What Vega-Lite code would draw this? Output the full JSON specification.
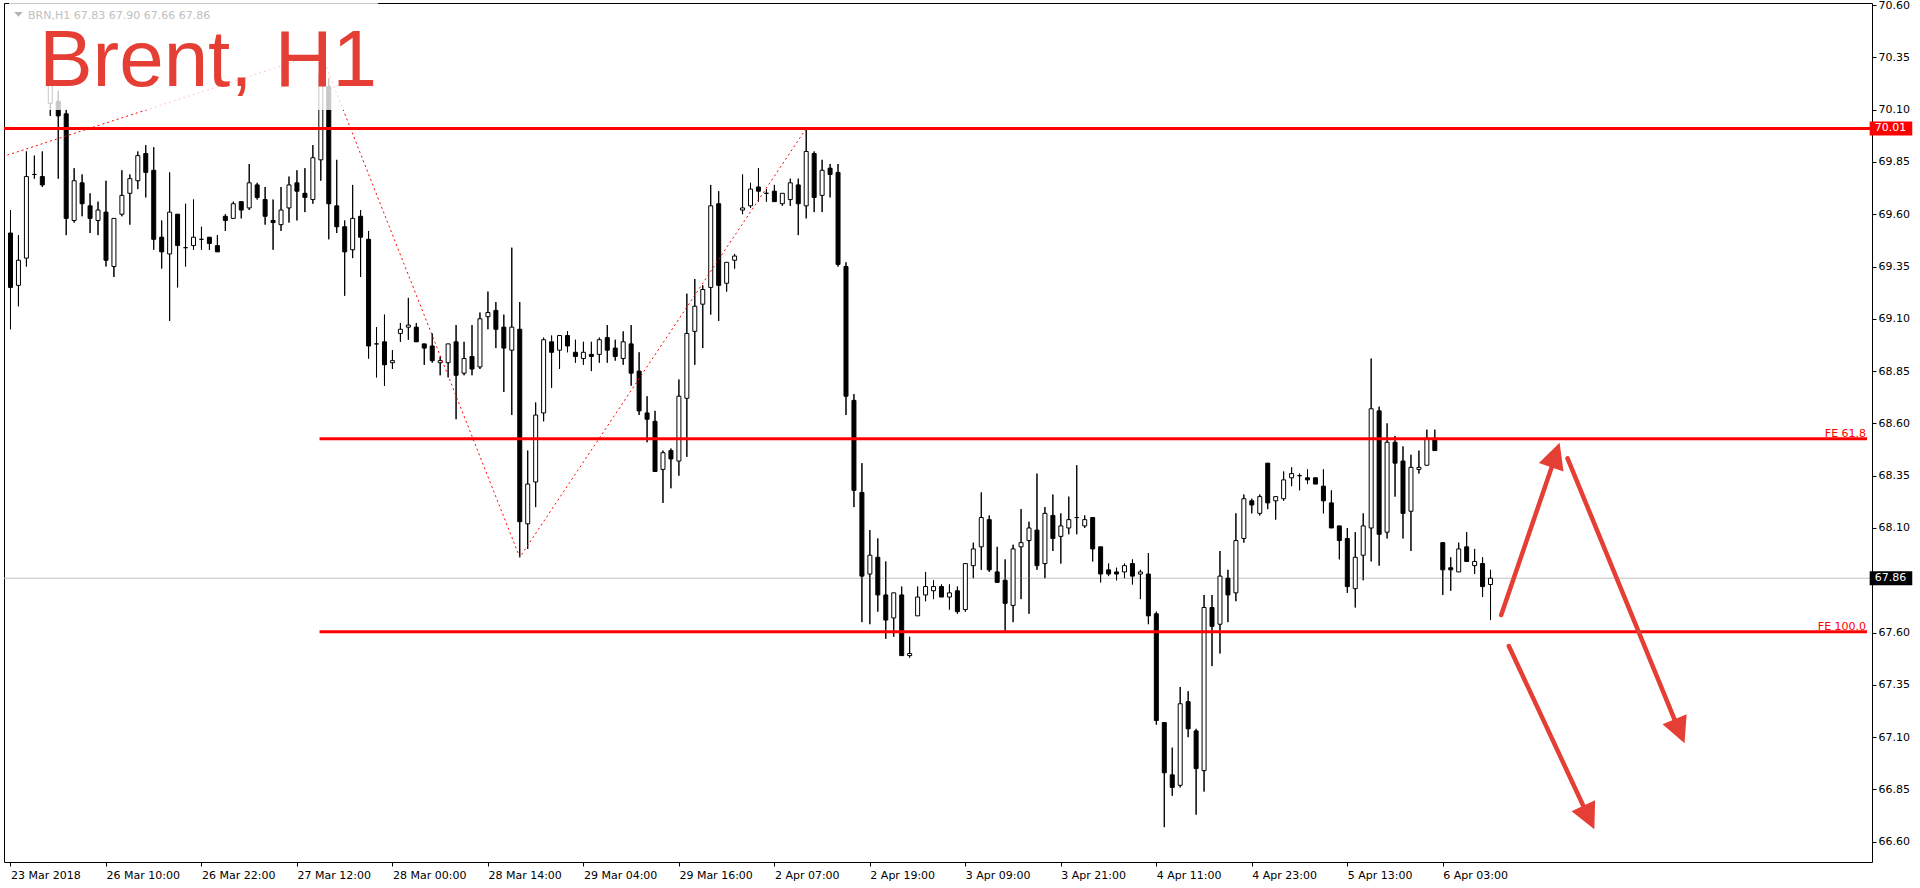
{
  "$schema": "https://vega.github.io/schema/vega-lite/v6.json",
  "width": 1868,
  "height": 859,
  "autosize": {"type": "none"},
  "padding": {"left": 4, "top": 3, "right": 48, "bottom": 26},
  "background": "white",
  "config": {
    "view": {"stroke": "black", "strokeWidth": 1},
    "axis": {"labelFont": "DejaVu Sans", "labelFontSize": 11, "labelColor": "black", "tickColor": "black", "tickSize": 4, "grid": false, "domain": false, "title": null}
  },
  "datasets": {
    "candles": [
      {"i":0,"o":69.51,"h":69.62,"l":69.05,"c":69.25},
      {"i":1,"o":69.26,"h":69.50,"l":69.16,"c":69.38},
      {"i":2,"o":69.39,"h":69.90,"l":69.35,"c":69.78},
      {"i":3,"o":69.79,"h":69.88,"l":69.77,"c":69.79},
      {"i":4,"o":69.78,"h":69.90,"l":69.73,"c":69.74},
      {"i":5,"o":70.13,"h":70.24,"l":70.07,"c":70.24},
      {"i":6,"o":70.14,"h":70.19,"l":69.77,"c":70.07},
      {"i":7,"o":70.08,"h":70.10,"l":69.50,"c":69.58},
      {"i":8,"o":69.57,"h":69.82,"l":69.56,"c":69.76},
      {"i":9,"o":69.75,"h":69.79,"l":69.59,"c":69.65},
      {"i":10,"o":69.64,"h":69.70,"l":69.51,"c":69.58},
      {"i":11,"o":69.57,"h":69.66,"l":69.50,"c":69.62},
      {"i":12,"o":69.61,"h":69.76,"l":69.35,"c":69.38},
      {"i":13,"o":69.35,"h":69.58,"l":69.30,"c":69.58},
      {"i":14,"o":69.60,"h":69.81,"l":69.59,"c":69.69},
      {"i":15,"o":69.70,"h":69.79,"l":69.55,"c":69.77},
      {"i":16,"o":69.76,"h":69.90,"l":69.72,"c":69.88},
      {"i":17,"o":69.89,"h":69.93,"l":69.68,"c":69.80},
      {"i":18,"o":69.81,"h":69.92,"l":69.43,"c":69.48},
      {"i":19,"o":69.49,"h":69.57,"l":69.34,"c":69.42},
      {"i":20,"o":69.41,"h":69.80,"l":69.09,"c":69.61},
      {"i":21,"o":69.60,"h":69.60,"l":69.25,"c":69.45},
      {"i":22,"o":69.44,"h":69.65,"l":69.35,"c":69.44},
      {"i":23,"o":69.45,"h":69.67,"l":69.43,"c":69.49},
      {"i":24,"o":69.48,"h":69.54,"l":69.43,"c":69.48},
      {"i":25,"o":69.49,"h":69.49,"l":69.43,"c":69.46},
      {"i":26,"o":69.45,"h":69.50,"l":69.42,"c":69.42},
      {"i":27,"o":69.59,"h":69.60,"l":69.52,"c":69.57},
      {"i":28,"o":69.58,"h":69.66,"l":69.58,"c":69.65},
      {"i":29,"o":69.66,"h":69.66,"l":69.58,"c":69.62},
      {"i":30,"o":69.63,"h":69.84,"l":69.62,"c":69.75},
      {"i":31,"o":69.74,"h":69.75,"l":69.67,"c":69.68},
      {"i":32,"o":69.67,"h":69.73,"l":69.55,"c":69.59},
      {"i":33,"o":69.57,"h":69.67,"l":69.43,"c":69.56},
      {"i":34,"o":69.55,"h":69.73,"l":69.52,"c":69.62},
      {"i":35,"o":69.63,"h":69.78,"l":69.56,"c":69.74},
      {"i":36,"o":69.75,"h":69.81,"l":69.57,"c":69.71},
      {"i":37,"o":69.70,"h":69.82,"l":69.61,"c":69.68},
      {"i":38,"o":69.67,"h":69.93,"l":69.65,"c":69.87},
      {"i":39,"o":69.86,"h":70.37,"l":69.76,"c":70.27},
      {"i":40,"o":70.21,"h":70.25,"l":69.48,"c":69.65},
      {"i":41,"o":69.64,"h":69.86,"l":69.51,"c":69.54},
      {"i":42,"o":69.54,"h":69.57,"l":69.21,"c":69.42},
      {"i":43,"o":69.43,"h":69.74,"l":69.39,"c":69.58},
      {"i":44,"o":69.59,"h":69.62,"l":69.30,"c":69.49},
      {"i":45,"o":69.48,"h":69.52,"l":68.91,"c":68.97},
      {"i":46,"o":68.98,"h":69.06,"l":68.82,"c":68.98},
      {"i":47,"o":68.99,"h":69.12,"l":68.78,"c":68.88},
      {"i":48,"o":68.89,"h":68.95,"l":68.86,"c":68.90},
      {"i":49,"o":69.03,"h":69.08,"l":68.99,"c":69.05},
      {"i":50,"o":69.06,"h":69.20,"l":69.00,"c":69.07},
      {"i":51,"o":69.06,"h":69.08,"l":68.99,"c":68.99},
      {"i":52,"o":68.98,"h":68.98,"l":68.88,"c":68.96},
      {"i":53,"o":68.97,"h":69.03,"l":68.89,"c":68.90},
      {"i":54,"o":68.89,"h":68.92,"l":68.83,"c":68.90},
      {"i":55,"o":68.89,"h":68.98,"l":68.82,"c":68.98},
      {"i":56,"o":68.99,"h":69.07,"l":68.62,"c":68.83},
      {"i":57,"o":68.84,"h":68.99,"l":68.83,"c":68.91},
      {"i":58,"o":68.92,"h":69.07,"l":68.83,"c":68.86},
      {"i":59,"o":68.87,"h":69.13,"l":68.86,"c":69.10},
      {"i":60,"o":69.11,"h":69.23,"l":69.05,"c":69.13},
      {"i":61,"o":69.14,"h":69.18,"l":68.96,"c":69.05},
      {"i":62,"o":69.06,"h":69.12,"l":68.75,"c":68.96},
      {"i":63,"o":68.95,"h":69.44,"l":68.64,"c":69.06},
      {"i":64,"o":69.05,"h":69.18,"l":67.96,"c":68.13},
      {"i":65,"o":68.12,"h":68.47,"l":68.00,"c":68.31},
      {"i":66,"o":68.32,"h":68.70,"l":68.20,"c":68.64},
      {"i":67,"o":68.65,"h":69.01,"l":68.61,"c":69.00},
      {"i":68,"o":68.99,"h":69.02,"l":68.77,"c":68.94},
      {"i":69,"o":68.95,"h":69.02,"l":68.86,"c":69.02},
      {"i":70,"o":69.02,"h":69.04,"l":68.94,"c":68.97},
      {"i":71,"o":68.94,"h":69.00,"l":68.89,"c":68.92},
      {"i":72,"o":68.91,"h":68.99,"l":68.88,"c":68.94},
      {"i":73,"o":68.93,"h":68.99,"l":68.85,"c":68.92},
      {"i":74,"o":68.93,"h":69.01,"l":68.89,"c":69.00},
      {"i":75,"o":69.01,"h":69.07,"l":68.89,"c":68.95},
      {"i":76,"o":68.96,"h":69.00,"l":68.90,"c":68.92},
      {"i":77,"o":68.91,"h":69.04,"l":68.88,"c":68.99},
      {"i":78,"o":68.98,"h":69.07,"l":68.78,"c":68.84},
      {"i":79,"o":68.85,"h":68.94,"l":68.64,"c":68.66},
      {"i":80,"o":68.65,"h":68.73,"l":68.51,"c":68.62},
      {"i":81,"o":68.61,"h":68.66,"l":68.37,"c":68.37},
      {"i":82,"o":68.38,"h":68.47,"l":68.22,"c":68.46},
      {"i":83,"o":68.47,"h":68.48,"l":68.29,"c":68.43},
      {"i":84,"o":68.42,"h":68.81,"l":68.35,"c":68.73},
      {"i":85,"o":68.72,"h":69.22,"l":68.44,"c":69.03},
      {"i":86,"o":69.04,"h":69.29,"l":68.88,"c":69.16},
      {"i":87,"o":69.17,"h":69.26,"l":68.96,"c":69.24},
      {"i":88,"o":69.25,"h":69.74,"l":69.12,"c":69.64},
      {"i":89,"o":69.65,"h":69.71,"l":69.09,"c":69.26},
      {"i":90,"o":69.27,"h":69.37,"l":69.23,"c":69.37},
      {"i":91,"o":69.38,"h":69.41,"l":69.34,"c":69.40},
      {"i":92,"o":69.62,"h":69.79,"l":69.60,"c":69.63},
      {"i":93,"o":69.64,"h":69.75,"l":69.63,"c":69.72},
      {"i":94,"o":69.73,"h":69.82,"l":69.66,"c":69.71},
      {"i":95,"o":69.70,"h":69.72,"l":69.66,"c":69.70},
      {"i":96,"o":69.71,"h":69.74,"l":69.66,"c":69.66},
      {"i":97,"o":69.65,"h":69.70,"l":69.64,"c":69.70},
      {"i":98,"o":69.67,"h":69.77,"l":69.64,"c":69.75},
      {"i":99,"o":69.74,"h":69.77,"l":69.50,"c":69.65},
      {"i":100,"o":69.64,"h":70.01,"l":69.58,"c":69.90},
      {"i":101,"o":69.89,"h":69.90,"l":69.61,"c":69.68},
      {"i":102,"o":69.69,"h":69.86,"l":69.61,"c":69.81},
      {"i":103,"o":69.82,"h":69.84,"l":69.68,"c":69.79},
      {"i":104,"o":69.80,"h":69.84,"l":69.35,"c":69.36},
      {"i":105,"o":69.35,"h":69.37,"l":68.64,"c":68.73},
      {"i":106,"o":68.71,"h":68.74,"l":68.20,"c":68.28},
      {"i":107,"o":68.27,"h":68.41,"l":67.65,"c":67.87},
      {"i":108,"o":67.88,"h":68.09,"l":67.64,"c":67.97},
      {"i":109,"o":67.96,"h":68.05,"l":67.70,"c":67.78},
      {"i":110,"o":67.78,"h":67.94,"l":67.57,"c":67.66},
      {"i":111,"o":67.67,"h":67.79,"l":67.58,"c":67.79},
      {"i":112,"o":67.78,"h":67.82,"l":67.49,"c":67.49},
      {"i":113,"o":67.49,"h":67.58,"l":67.48,"c":67.50},
      {"i":114,"o":67.68,"h":67.82,"l":67.68,"c":67.77},
      {"i":115,"o":67.78,"h":67.89,"l":67.75,"c":67.82},
      {"i":116,"o":67.80,"h":67.85,"l":67.76,"c":67.82},
      {"i":117,"o":67.82,"h":67.83,"l":67.77,"c":67.77},
      {"i":118,"o":67.77,"h":67.83,"l":67.71,"c":67.79},
      {"i":119,"o":67.80,"h":67.82,"l":67.69,"c":67.70},
      {"i":120,"o":67.71,"h":67.93,"l":67.70,"c":67.93},
      {"i":121,"o":67.92,"h":68.03,"l":67.86,"c":68.00},
      {"i":122,"o":68.01,"h":68.27,"l":67.90,"c":68.15},
      {"i":123,"o":68.14,"h":68.16,"l":67.89,"c":67.90},
      {"i":124,"o":67.89,"h":68.01,"l":67.84,"c":67.84},
      {"i":125,"o":67.85,"h":67.95,"l":67.61,"c":67.74},
      {"i":126,"o":67.73,"h":68.02,"l":67.65,"c":68.00},
      {"i":127,"o":68.01,"h":68.19,"l":67.76,"c":68.03},
      {"i":128,"o":68.04,"h":68.13,"l":67.69,"c":68.10},
      {"i":129,"o":68.09,"h":68.36,"l":67.90,"c":67.92},
      {"i":130,"o":67.93,"h":68.20,"l":67.86,"c":68.17},
      {"i":131,"o":68.16,"h":68.26,"l":67.99,"c":68.05},
      {"i":132,"o":68.06,"h":68.17,"l":67.93,"c":68.11},
      {"i":133,"o":68.10,"h":68.25,"l":68.07,"c":68.14},
      {"i":134,"o":68.15,"h":68.40,"l":68.07,"c":68.15},
      {"i":135,"o":68.11,"h":68.16,"l":68.10,"c":68.14},
      {"i":136,"o":68.15,"h":68.15,"l":67.94,"c":68.00},
      {"i":137,"o":68.01,"h":68.01,"l":67.84,"c":67.88},
      {"i":138,"o":67.90,"h":67.93,"l":67.87,"c":67.88},
      {"i":139,"o":67.89,"h":67.91,"l":67.85,"c":67.88},
      {"i":140,"o":67.89,"h":67.93,"l":67.86,"c":67.92},
      {"i":141,"o":67.93,"h":67.95,"l":67.83,"c":67.87},
      {"i":142,"o":67.88,"h":67.90,"l":67.76,"c":67.89},
      {"i":143,"o":67.88,"h":67.98,"l":67.64,"c":67.68},
      {"i":144,"o":67.69,"h":67.70,"l":67.16,"c":67.18},
      {"i":145,"o":67.17,"h":67.17,"l":66.67,"c":66.93},
      {"i":146,"o":66.92,"h":67.05,"l":66.82,"c":66.86},
      {"i":147,"o":66.87,"h":67.34,"l":66.86,"c":67.26},
      {"i":148,"o":67.27,"h":67.32,"l":67.10,"c":67.14},
      {"i":149,"o":67.13,"h":67.14,"l":66.73,"c":66.95},
      {"i":150,"o":66.94,"h":67.78,"l":66.84,"c":67.72},
      {"i":151,"o":67.72,"h":67.78,"l":67.44,"c":67.63},
      {"i":152,"o":67.64,"h":67.99,"l":67.50,"c":67.87},
      {"i":153,"o":67.86,"h":67.90,"l":67.65,"c":67.78},
      {"i":154,"o":67.79,"h":68.17,"l":67.75,"c":68.04},
      {"i":155,"o":68.05,"h":68.26,"l":68.03,"c":68.24},
      {"i":156,"o":68.23,"h":68.24,"l":68.17,"c":68.21},
      {"i":157,"o":68.17,"h":68.26,"l":68.16,"c":68.25},
      {"i":158,"o":68.41,"h":68.41,"l":68.19,"c":68.22},
      {"i":159,"o":68.23,"h":68.25,"l":68.14,"c":68.25},
      {"i":160,"o":68.24,"h":68.37,"l":68.23,"c":68.33},
      {"i":161,"o":68.34,"h":68.39,"l":68.30,"c":68.36},
      {"i":162,"o":68.35,"h":68.36,"l":68.28,"c":68.35},
      {"i":163,"o":68.34,"h":68.38,"l":68.31,"c":68.33},
      {"i":164,"o":68.34,"h":68.34,"l":68.31,"c":68.31},
      {"i":165,"o":68.30,"h":68.38,"l":68.17,"c":68.23},
      {"i":166,"o":68.22,"h":68.28,"l":68.10,"c":68.10},
      {"i":167,"o":68.11,"h":68.11,"l":67.95,"c":68.04},
      {"i":168,"o":68.05,"h":68.10,"l":67.79,"c":67.82},
      {"i":169,"o":67.81,"h":68.08,"l":67.72,"c":67.96},
      {"i":170,"o":67.97,"h":68.17,"l":67.85,"c":68.11},
      {"i":171,"o":68.10,"h":68.91,"l":67.94,"c":68.67},
      {"i":172,"o":68.66,"h":68.68,"l":67.92,"c":68.07},
      {"i":173,"o":68.08,"h":68.60,"l":68.05,"c":68.51},
      {"i":174,"o":68.51,"h":68.54,"l":68.25,"c":68.41},
      {"i":175,"o":68.42,"h":68.49,"l":68.05,"c":68.17},
      {"i":176,"o":68.18,"h":68.45,"l":67.99,"c":68.39},
      {"i":177,"o":68.38,"h":68.47,"l":68.36,"c":68.39},
      {"i":178,"o":68.40,"h":68.57,"l":68.40,"c":68.53},
      {"i":179,"o":68.53,"h":68.57,"l":68.47,"c":68.47},
      {"i":180,"o":68.03,"h":68.03,"l":67.78,"c":67.90},
      {"i":181,"o":67.91,"h":67.96,"l":67.80,"c":67.90},
      {"i":182,"o":67.89,"h":68.03,"l":67.89,"c":68.00},
      {"i":183,"o":68.01,"h":68.08,"l":67.94,"c":67.94},
      {"i":184,"o":67.92,"h":68.00,"l":67.88,"c":67.94},
      {"i":185,"o":67.93,"h":67.96,"l":67.77,"c":67.82},
      {"i":186,"o":67.83,"h":67.90,"l":67.66,"c":67.86}
    ],
    "fib": [
      {"x": -1, "p": 69.875},
      {"x": 39, "p": 70.37},
      {"x": 64, "p": 67.96},
      {"x": 100, "p": 70.01}
    ],
    "arrows": [
      {"a": 1, "x1": 187.34, "y1": 67.684, "x2": 193.69, "y2": 68.391, "tx": 194.68, "ty": 68.508},
      {"a": 2, "x1": 195.68, "y1": 68.433, "x2": 209.12, "y2": 67.185, "tx": 210.38, "ty": 67.071},
      {"a": 3, "x1": 188.30, "y1": 67.536, "x2": 197.61, "y2": 66.776, "tx": 199.05, "ty": 66.660}
    ],
    "one": [{}]
  },
  "data": {"name": "candles"},
  "layer": [
    {
      "mark": {"type": "rule", "color": "black", "strokeWidth": 1},
      "encoding": {
        "x": {
          "field": "i", "type": "quantitative",
          "scale": {"domain": [-0.1875, 233.3125], "nice": false, "zero": false},
          "axis": {
            "orient": "bottom",
            "values": [0, 12, 24, 36, 48, 60, 72, 84, 96, 108, 120, 132, 144, 156, 168, 180],
            "labelExpr": "['23 Mar 2018','26 Mar 10:00','26 Mar 22:00','27 Mar 12:00','28 Mar 00:00','28 Mar 14:00','29 Mar 04:00','29 Mar 16:00','2 Apr 07:00','2 Apr 19:00','3 Apr 09:00','3 Apr 21:00','4 Apr 11:00','4 Apr 23:00','5 Apr 13:00','6 Apr 03:00'][round(datum.value/12)]",
            "labelAlign": "left", "labelPadding": 3, "labelFlush": false, "labelOverlap": false
          }
        },
        "y": {
          "field": "l", "type": "quantitative",
          "scale": {"domain": [66.5034, 70.6096], "nice": false, "zero": false},
          "axis": {
            "orient": "right",
            "values": [66.6, 66.85, 67.1, 67.35, 67.6, 67.85, 68.1, 68.35, 68.6, 68.85, 69.1, 69.35, 69.6, 69.85, 70.1, 70.35, 70.6],
            "format": ".2f", "labelPadding": 2, "labelOverlap": false, "labelFlush": false
          }
        },
        "y2": {"field": "h"}
      }
    },
    {
      "data": {"name": "one"},
      "mark": {"type": "rule", "color": "#c0c0c0", "strokeWidth": 1},
      "encoding": {"y": {"datum": 67.86, "type": "quantitative"}}
    },
    {
      "mark": {"type": "rule", "color": "black", "strokeWidth": 1},
      "encoding": {
        "x": {"field": "i", "type": "quantitative"},
        "y": {"field": "l", "type": "quantitative"},
        "y2": {"field": "h"}
      }
    },
    {
      "mark": {"type": "bar", "width": 4, "stroke": "black", "strokeWidth": 1},
      "encoding": {
        "x": {"field": "i", "type": "quantitative"},
        "y": {"field": "o", "type": "quantitative"},
        "y2": {"field": "c"},
        "fill": {"condition": {"test": "datum.c > datum.o", "value": "white"}, "value": "black"}
      }
    },
    {
      "data": {"name": "fib"},
      "mark": {"type": "line", "color": "#ff0000", "strokeWidth": 1, "strokeDash": [2, 3], "clip": true},
      "encoding": {
        "x": {"field": "x", "type": "quantitative"},
        "y": {"field": "p", "type": "quantitative"}
      }
    },
    {
      "data": {"name": "one"},
      "mark": {"type": "rect", "color": "white", "opacity": 0.78, "clip": true},
      "encoding": {
        "x": {"datum": -0.1875, "type": "quantitative"},
        "x2": {"datum": 46.2},
        "y": {"datum": 70.098, "type": "quantitative"},
        "y2": {"datum": 70.6096}
      }
    },
    {
      "data": {"name": "one"},
      "mark": {"type": "rule", "color": "#ff0000", "strokeWidth": 3},
      "encoding": {"y": {"datum": 70.01, "type": "quantitative"}}
    },
    {
      "data": {"name": "one"},
      "mark": {"type": "rule", "color": "#ff0000", "strokeWidth": 3},
      "encoding": {
        "x": {"datum": 38.84, "type": "quantitative"},
        "x2": {"datum": 233.3125},
        "y": {"datum": 68.527, "type": "quantitative"}
      }
    },
    {
      "data": {"name": "one"},
      "mark": {"type": "rule", "color": "#ff0000", "strokeWidth": 3},
      "encoding": {
        "x": {"datum": 38.84, "type": "quantitative"},
        "x2": {"datum": 233.3125},
        "y": {"datum": 67.604, "type": "quantitative"}
      }
    },
    {
      "data": {"name": "one"},
      "mark": {"type": "text", "color": "#ff0000", "font": "DejaVu Sans", "fontSize": 11, "align": "right", "baseline": "alphabetic", "dy": -2},
      "encoding": {
        "x": {"datum": 233.2, "type": "quantitative"},
        "y": {"datum": 68.527, "type": "quantitative"},
        "text": {"value": "FE 61.8"}
      }
    },
    {
      "data": {"name": "one"},
      "mark": {"type": "text", "color": "#ff0000", "font": "DejaVu Sans", "fontSize": 11, "align": "right", "baseline": "alphabetic", "dy": -2},
      "encoding": {
        "x": {"datum": 233.2, "type": "quantitative"},
        "y": {"datum": 67.604, "type": "quantitative"},
        "text": {"value": "FE 100.0"}
      }
    },
    {
      "data": {"name": "arrows"},
      "mark": {"type": "rule", "color": "#e53e34", "strokeWidth": 4.5, "strokeCap": "round"},
      "encoding": {
        "x": {"field": "x1", "type": "quantitative"},
        "y": {"field": "y1", "type": "quantitative"},
        "x2": {"field": "x2"},
        "y2": {"field": "y2"}
      }
    },
    {
      "data": {"name": "arrows"},
      "transform": [{"filter": "datum.a == 1"}],
      "mark": {"type": "point", "shape": "M0,0L-1,2L1,2Z", "size": 676, "filled": true, "color": "#e53e34", "opacity": 1, "angle": 18.8},
      "encoding": {
        "x": {"field": "tx", "type": "quantitative"},
        "y": {"field": "ty", "type": "quantitative"}
      }
    },
    {
      "data": {"name": "arrows"},
      "transform": [{"filter": "datum.a == 2"}],
      "mark": {"type": "point", "shape": "M0,0L-1,2L1,2Z", "size": 676, "filled": true, "color": "#e53e34", "opacity": 1, "angle": 157.6},
      "encoding": {
        "x": {"field": "tx", "type": "quantitative"},
        "y": {"field": "ty", "type": "quantitative"}
      }
    },
    {
      "data": {"name": "arrows"},
      "transform": [{"filter": "datum.a == 3"}],
      "mark": {"type": "point", "shape": "M0,0L-1,2L1,2Z", "size": 676, "filled": true, "color": "#e53e34", "opacity": 1, "angle": 154.9},
      "encoding": {
        "x": {"field": "tx", "type": "quantitative"},
        "y": {"field": "ty", "type": "quantitative"}
      }
    },
    {
      "data": {"name": "one"},
      "mark": {"type": "rect", "color": "#ff0000"},
      "encoding": {
        "x": {"datum": 233.65, "type": "quantitative"},
        "x2": {"datum": 239.0},
        "y": {"datum": 69.9765, "type": "quantitative"},
        "y2": {"datum": 70.0435}
      }
    },
    {
      "data": {"name": "one"},
      "mark": {"type": "text", "color": "white", "font": "DejaVu Sans", "fontSize": 11, "align": "left", "baseline": "middle"},
      "encoding": {
        "x": {"datum": 234.3, "type": "quantitative"},
        "y": {"datum": 70.01, "type": "quantitative"},
        "text": {"value": "70.01"}
      }
    },
    {
      "data": {"name": "one"},
      "mark": {"type": "rect", "color": "black"},
      "encoding": {
        "x": {"datum": 233.65, "type": "quantitative"},
        "x2": {"datum": 239.0},
        "y": {"datum": 67.8265, "type": "quantitative"},
        "y2": {"datum": 67.8935}
      }
    },
    {
      "data": {"name": "one"},
      "mark": {"type": "text", "color": "white", "font": "DejaVu Sans", "fontSize": 11, "align": "left", "baseline": "middle"},
      "encoding": {
        "x": {"datum": 234.3, "type": "quantitative"},
        "y": {"datum": 67.86, "type": "quantitative"},
        "text": {"value": "67.86"}
      }
    },
    {
      "data": {"name": "one"},
      "mark": {"type": "point", "shape": "M-1,-0.55L1,-0.55L0,0.55Z", "size": 72, "filled": true, "color": "#b4b4b4", "opacity": 1},
      "encoding": {
        "x": {"datum": 1.0, "type": "quantitative"},
        "y": {"datum": 70.555, "type": "quantitative"}
      }
    },
    {
      "data": {"name": "one"},
      "mark": {"type": "text", "color": "#c0c0c0", "font": "DejaVu Sans", "fontSize": 11, "align": "left", "baseline": "alphabetic"},
      "encoding": {
        "x": {"datum": 2.2, "type": "quantitative"},
        "y": {"datum": 70.532, "type": "quantitative"},
        "text": {"value": "BRN,H1  67.83 67.90 67.66 67.86"}
      }
    },
    {
      "data": {"name": "one"},
      "mark": {"type": "text", "color": "#e53e34", "font": "Liberation Sans", "fontSize": 80, "align": "left", "baseline": "alphabetic"},
      "encoding": {
        "x": {"datum": 3.6, "type": "quantitative"},
        "y": {"datum": 70.213, "type": "quantitative"},
        "text": {"value": "Brent, H1"}
      }
    }
  ]
}
